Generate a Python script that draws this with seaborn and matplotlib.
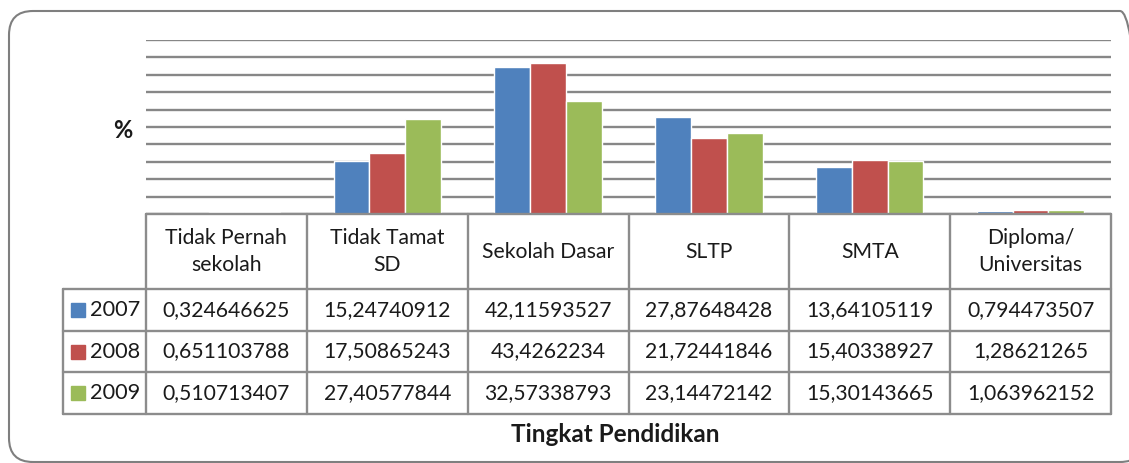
import pandas as pd
import matplotlib.pyplot as plt
import seaborn as sns
from matplotlib.lines import Line2D
from matplotlib.patches import Rectangle, FancyBboxPatch
from matplotlib.transforms import IdentityTransform

kategori = ["Tidak Pernah\nsekolah", "Tidak Tamat\nSD", "Sekolah Dasar",
            "SLTP", "SMTA", "Diploma/\nUniversitas"]
tahun = ["2007", "2008", "2009"]
nilai_2007 = [0.324646625, 15.24740912, 42.11593527, 27.87648428, 13.64105119, 0.794473507]
nilai_2008 = [0.651103788, 17.50865243, 43.4262234, 21.72441846, 15.40338927, 1.28621265]
nilai_2009 = [0.510713407, 27.40577844, 32.57338793, 23.14472142, 15.30143665, 1.063962152]
warna = ["#4F81BD", "#C0504D", "#9BBB59"]

rows = []
for th, vals in zip(tahun, [nilai_2007, nilai_2008, nilai_2009]):
    for k, v in zip(kategori, vals):
        rows.append({"kategori": k, "tahun": th, "nilai": v})
df = pd.DataFrame(rows)

sns.set_theme(style="white")
plt.rcParams["font.family"] = ["Lato", "DejaVu Sans"]

W, H = 1129, 463
fig = plt.figure(figsize=(W / 100, H / 100), dpi=100)


def fx(px):
    return px / W


def fy(py):
    return 1 - py / H


# plot area in pixel terms
x0, x1, ybase, ytop = 146, 1111, 214, 40
ax = fig.add_axes([fx(x0), fy(ybase), fx(x1) - fx(x0), fy(ytop) - fy(ybase)])
sns.barplot(data=df, x="kategori", y="nilai", hue="tahun", hue_order=tahun,
            order=kategori, palette=warna, width=2 / 3, saturation=1,
            legend=False, ax=ax)
ax.set_ylim(0, 50)
ax.set_xlim(-0.5, 5.5)
ax.set_yticks(range(0, 55, 5))
ax.yaxis.grid(True, color="#878787", linewidth=1.7)
ax.set_axisbelow(True)
ax.tick_params(length=0, labelleft=False, labelbottom=False)
ax.set_xlabel("")
ax.set_ylabel("")
for s in ax.spines.values():
    s.set_visible(False)

fig.text(fx(123), fy(131), "%", ha="center", va="center",
         fontsize=17, fontweight="bold", color="#1a1a1a")

# data table below the plot
garis = "#8c8c8c"
lw = 1.7
colw = (x1 - x0) / 6
row_y = [214, 289, 331, 372, 414]
xleft = 63


def hline(y, xa, xb):
    fig.add_artist(Line2D([fx(xa), fx(xb)], [fy(y), fy(y)], color=garis, lw=lw))


def vline(x, ya, yb):
    fig.add_artist(Line2D([fx(x), fx(x)], [fy(ya), fy(yb)], color=garis, lw=lw))


hline(row_y[0], x0, x1)
for y in row_y[1:]:
    hline(y, xleft, x1)
vline(xleft, row_y[1], row_y[-1])
for i in range(7):
    vline(x0 + i * colw, row_y[0], row_y[-1])

teks = "#1a1a1a"
fs = 15.2
for i, k in enumerate(kategori):
    cx = x0 + (i + 0.5) * colw
    fig.text(fx(cx), fy((row_y[0] + row_y[1]) / 2), k, ha="center", va="center",
             fontsize=fs, color=teks, linespacing=1.4)

for r, (th, vals, c) in enumerate(zip(tahun, [nilai_2007, nilai_2008, nilai_2009], warna)):
    cy = (row_y[r + 1] + row_y[r + 2]) / 2
    fig.add_artist(Rectangle((fx(71), fy(cy + 7)), fx(14), 14 / H, color=c))
    fig.text(fx(90), fy(cy), th, ha="left", va="center", fontsize=fs + 0.5, color=teks)
    for i, v in enumerate(vals):
        cx = x0 + (i + 0.5) * colw
        fig.text(fx(cx), fy(cy), str(v).replace(".", ","), ha="center",
                 va="center", fontsize=fs, color=teks)

fig.text(fx(615), fy(435), "Tingkat Pendidikan", ha="center", va="center",
         fontsize=17.5, fontweight="bold", color=teks)

# rounded chart border, drawn in pixel coordinates
fig.add_artist(FancyBboxPatch((9, 1), 1135, 451, transform=IdentityTransform(),
                              boxstyle="round,pad=0,rounding_size=24",
                              fill=False, edgecolor="#7f7f7f", lw=1.5))

plt.savefig("out.png", dpi=100)
plt.close()
